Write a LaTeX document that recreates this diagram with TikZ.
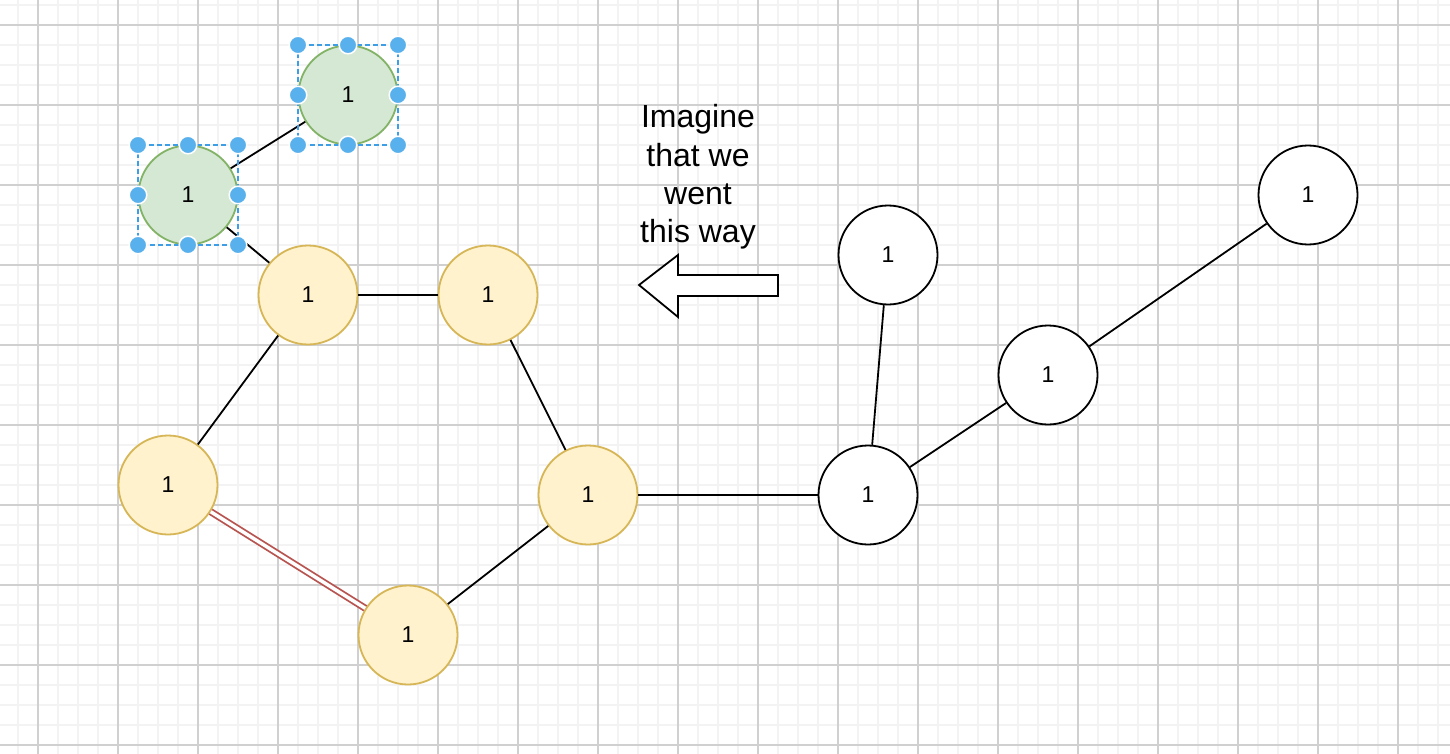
\documentclass[tikz,border=0pt]{standalone}
\usepackage{fontspec}
\setmainfont{Liberation Sans}
\definecolor{yfill}{HTML}{FFF2CC}
\definecolor{ydraw}{HTML}{D6B656}
\definecolor{gfill}{HTML}{D5E8D4}
\definecolor{gdraw}{HTML}{82B366}
\definecolor{redge}{HTML}{B85450}
\definecolor{handle}{HTML}{58B0EC}
\definecolor{selbox}{HTML}{3D9EE6}
\definecolor{gminor}{HTML}{F3F3F3}
\definecolor{gmajor}{HTML}{D0D0D0}
\begin{document}
\begin{tikzpicture}[x=1pt,y=-1pt,
  vtx/.style={circle,minimum size=99pt,inner sep=0pt,line width=1.8pt,font=\fontsize{23}{27}\selectfont},
  ynode/.style={vtx,draw=ydraw,fill=yfill},
  gnode/.style={vtx,draw=gdraw,fill=gfill},
  wnode/.style={vtx,draw=black,fill=white},
  edge/.style={line width=1.8pt,draw=black},
  dbl/.style={draw=redge,double=white,double distance=3.5pt,line width=1.8pt},
  minorline/.style={draw=gminor,line width=2pt},
  majorline/.style={draw=gmajor,line width=1.2pt},
  sel/.style={draw=selbox,dashed,line width=1.6pt,dash pattern=on 5pt off 3pt},
  hdl/.style={fill=handle,draw=white,line width=1.5pt}
]
\useasboundingbox (0,0) rectangle (1450,754);
\fill[white] (0,0) rectangle (1450,754);
% grid
\foreach \x in {18,38,...,1450} \draw[minorline] (\x,0) -- (\x,754);
\foreach \y in {5,25,...,754} \draw[minorline] (0,\y) -- (1450,\y);
\foreach \x in {38,118,...,1450} \draw[majorline] (\x,0) -- (\x,754);
\foreach \y in {25,105,...,754} \draw[majorline] (0,\y) -- (1450,\y);

% nodes
\node[gnode] (gA) at (188,195) {1};
\node[gnode] (gB) at (348,95) {1};
\node[ynode] (y1) at (308,295) {1};
\node[ynode] (y2) at (488,295) {1};
\node[ynode] (y3) at (168,485) {1};
\node[ynode] (y4) at (588,495) {1};
\node[ynode] (y5) at (408,635) {1};
\node[wnode] (w1) at (868,495) {1};
\node[wnode] (w2) at (888,255) {1};
\node[wnode] (w3) at (1048,375) {1};
\node[wnode] (w4) at (1308,195) {1};

% edges
\draw[edge] (gA) -- (gB);
\draw[edge] (gA) -- (y1);
\draw[edge] (y1) -- (y2);
\draw[edge] (y1) -- (y3);
\draw[edge] (y2) -- (y4);
\draw[edge] (y4) -- (y5);
\draw[dbl] (y3) -- (y5);
\draw[edge] (y4) -- (w1);
\draw[edge] (w1) -- (w2);
\draw[edge] (w1) -- (w3);
\draw[edge] (w3) -- (w4);

% selection boxes and handles
\draw[sel] (138,145) rectangle (238,245);
\draw[sel] (298,45) rectangle (398,145);
\foreach \cx/\cy in {138/145,188/145,238/145,138/195,238/195,138/245,188/245,238/245,
                     298/45,348/45,398/45,298/95,398/95,298/145,348/145,398/145}
  \filldraw[hdl] (\cx,\cy) circle (8.8pt);

% text
\node[align=center,font=\fontsize{32}{38.3}\selectfont] (txt) at (698,177) {Imagine\\that we\\went\\this way};

% block arrow
\draw[line width=1.8pt,fill=white] (639,285) -- (678,255) -- (678,275) -- (778,275) -- (778,296) -- (678,296) -- (678,317) -- cycle;
\end{tikzpicture}
\end{document}
